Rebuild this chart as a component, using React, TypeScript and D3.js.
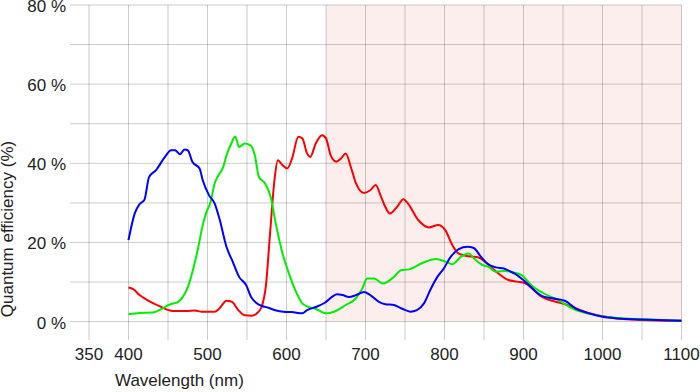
import React from "react";
import * as d3 from "d3";

const xTicks = [350, 400, 500, 600, 700, 800, 900, 1000, 1100];
const yTicks = [0, 20, 40, 60, 80];
const xGrid = [350, 400, 450, 500, 550, 600, 650, 700, 750, 800, 850, 900, 950, 1000, 1050, 1100];
const yGrid = [0, 10, 20, 30, 40, 50, 60, 70, 80];
const nirStart = 650;
const nirEnd = 1100;

const blueSeries: [number, number][] = [
  [400, 20.6], [408, 27.4], [414, 29.7], [420, 30.7], [426, 36.5], [435, 38.3], [445, 41.3], [454, 43.3],
  [459, 43.3], [465, 42.3], [471, 43.5], [475, 43.3], [481, 40.3], [490, 38.7], [494, 35.7], [502, 31.9],
  [509, 29.9], [515, 26.1], [524, 18.9], [532, 15.1], [540, 11.3], [549, 9.2], [555, 6.3], [562, 4.7],
  [568, 4.0], [577, 3.5], [587, 2.8], [596, 2.5], [607, 2.4], [620, 2.1], [626, 2.9], [637, 3.7],
  [648, 4.7], [658, 6.3], [664, 6.9], [671, 6.7], [679, 6.2], [688, 6.7], [698, 7.5], [706, 6.7],
  [717, 5.0], [725, 4.4], [736, 4.2], [746, 3.3], [757, 2.5], [765, 2.9], [774, 4.6], [782, 8.0],
  [791, 11.3], [799, 13.4], [808, 16.4], [818, 18.3], [829, 18.9], [837, 18.6], [846, 16.4], [854, 14.7],
  [865, 13.7], [875, 13.4], [884, 12.6], [890, 12.0], [902, 10.1], [923, 6.5], [936, 5.9], [953, 5.2],
  [966, 3.3], [981, 2.2], [1000, 1.2], [1020, 0.8], [1050, 0.55], [1100, 0.2],
];

const greenSeries: [number, number][] = [
  [400, 1.9], [414, 2.2], [431, 2.3], [439, 2.9], [452, 4.3], [463, 5.0], [469, 6.3], [476, 9.2],
  [482, 13.4], [488, 18.5], [493, 23.5], [498, 27.3], [504, 30.3], [509, 34.9], [514, 37.0], [520, 39.1],
  [524, 42.0], [531, 45.4], [535, 46.8], [540, 44.1], [547, 45.0], [554, 44.6], [560, 42.0], [565, 36.6],
  [573, 34.9], [580, 31.5], [586, 25.2], [595, 17.2], [603, 12.2], [611, 8.0], [620, 4.6], [628, 3.7],
  [637, 3.2], [650, 2.1], [660, 2.5], [675, 4.2], [688, 5.9], [696, 8.4], [702, 10.9], [711, 10.9],
  [722, 9.6], [736, 11.3], [745, 13.0], [755, 13.2], [772, 14.8], [789, 15.8], [802, 15.1], [810, 14.5],
  [821, 16.4], [831, 17.2], [837, 16.0], [848, 14.3], [856, 13.8], [865, 12.6], [877, 12.8], [890, 12.3],
  [898, 11.7], [910, 9.2], [926, 7.1], [945, 5.3], [962, 3.3], [992, 1.6], [1020, 0.9], [1050, 0.6],
  [1100, 0.2],
];

const redSeries: [number, number][] = [
  [400, 8.6], [406, 8.2], [414, 6.7], [425, 5.3], [439, 3.9], [456, 2.7], [473, 2.7], [484, 2.8],
  [493, 2.5], [509, 2.5], [515, 3.3], [524, 5.3], [531, 5.0], [539, 2.9], [547, 1.6], [556, 1.5],
  [562, 2.0], [568, 3.5], [574, 9.2], [579, 21.8], [585, 36.2], [589, 40.8], [595, 39.5], [601, 38.7],
  [607, 41.2], [615, 46.7], [620, 46.3], [626, 42.5], [630, 41.6], [637, 45.0], [645, 47.1], [650, 46.3],
  [656, 42.0], [663, 40.4], [669, 41.2], [675, 42.5], [682, 38.7], [688, 34.9], [698, 32.5], [706, 33.2],
  [713, 34.5], [719, 31.9], [725, 29.0], [731, 27.3], [740, 29.0], [748, 30.9], [752, 30.3], [767, 25.6],
  [780, 23.8], [792, 24.4], [801, 23.1], [810, 19.3], [818, 17.2], [831, 16.5], [843, 16.2], [856, 14.3],
  [868, 12.2], [881, 10.5], [892, 10.1], [902, 9.7], [923, 6.3], [953, 4.4], [982, 2.2], [1008, 1.1],
  [1050, 0.4], [1100, 0.2],
];

const W = 700;
const H = 392;
const FONT = "'Liberation Sans', Arial, Helvetica, sans-serif";

export default function App() {
  const x = d3.scaleLinear().domain([350, 1100]).range([89, 681.5]);
  const y = d3.scaleLinear().domain([0, 80]).range([321.6, 5]);
  const line = d3
    .line<[number, number]>()
    .x((d) => x(d[0]))
    .y((d) => y(d[1]))
    .curve(d3.curveMonotoneX);

  const gridColor = "rgba(0,0,0,0.2)";
  const series = [
    { data: redSeries, color: "#ff0000" },
    { data: greenSeries, color: "#00ee00" },
    { data: blueSeries, color: "#0000ff" },
  ];

  return (
    <svg
      width={W}
      height={H}
      style={{ position: "absolute", left: 0, top: 0, background: "#fff" }}
      fontFamily={FONT}
    >
      <rect
        x={x(nirStart)}
        y={y(80)}
        width={x(nirEnd) - x(nirStart)}
        height={y(0) - y(80)}
        fill="#fdeeee"
      />
      {xGrid.map((v) => (
        <line key={"gx" + v} x1={x(v)} x2={x(v)} y1={y(80)} y2={340} stroke={gridColor} strokeWidth={1} />
      ))}
      {yGrid.map((v) => (
        <line key={"gy" + v} x1={70} x2={x(1100)} y1={y(v)} y2={y(v)} stroke={gridColor} strokeWidth={1} />
      ))}
      {series.map((s, i) => (
        <path key={i} d={line(s.data) || ""} fill="none" stroke={s.color} strokeWidth={2} strokeLinejoin="round" />
      ))}
      {xTicks.map((v) => (
        <text key={"tx" + v} x={x(v)} y={360} textAnchor="middle" fontSize={17} fill="#222">
          {v}
        </text>
      ))}
      {yTicks.map((v) => (
        <text key={"ty" + v} x={66} y={y(v) + 7} textAnchor="end" fontSize={17} fill="#222">
          {v} %
        </text>
      ))}
      <text x={115} y={386} fontSize={17} fill="#222">
        Wavelength (nm)
      </text>
      <text
        transform={`translate(13,229) rotate(-90)`}
        textAnchor="middle"
        fontSize={17}
        fill="#222"
      >
        Quantum efficiency (%)
      </text>
    </svg>
  );
}
